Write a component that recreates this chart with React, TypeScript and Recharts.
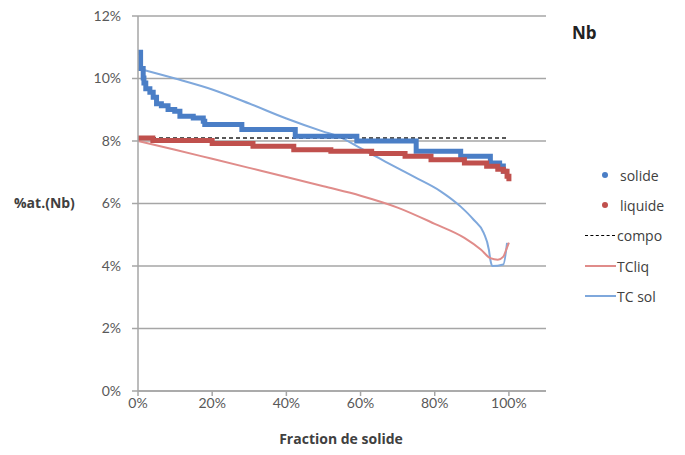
import { LineChart, Line, XAxis, YAxis, CartesianGrid } from 'recharts';

// fraction de solide (%) / composition (%at.)
const SOLIDE_X = [0, 0.7, 1.4, 1.6, 2.1, 3.2, 4.1, 5.0, 6.3, 8.1, 9.9, 11.3, 14.9, 17.6, 18.0, 26.6, 28.0, 41.0, 42.4, 58.1, 59.0, 74.0, 75.0, 87.0, 95.0, 97.5, 98.5, 99.0];
const SOLIDE_Y = [10.84, 10.32, 10.02, 9.86, 9.67, 9.56, 9.40, 9.19, 9.13, 9.01, 8.95, 8.79, 8.74, 8.63, 8.53, 8.53, 8.37, 8.37, 8.15, 8.15, 8.0, 8.0, 7.67, 7.51, 7.30, 7.20, 7.03, 6.98];

const LIQUIDE_X = [0, 4, 20, 31, 42, 52, 63, 72, 79, 88, 94, 97, 98.5, 99.5, 100];
const LIQUIDE_Y = [8.10, 8.02, 7.92, 7.83, 7.72, 7.67, 7.60, 7.51, 7.40, 7.30, 7.19, 7.10, 7.03, 6.87, 6.71];

const COMPO_X = [0, 100];
const COMPO_Y = [8.1, 8.1];

const TCLIQ_X = [0, 10, 20, 30, 40, 50, 60, 70, 80, 88, 92.5, 95, 97, 98.5, 99.2, 100];
const TCLIQ_Y = [8.0, 7.72, 7.43, 7.14, 6.85, 6.55, 6.25, 5.87, 5.35, 4.9, 4.52, 4.25, 4.2, 4.3, 4.5, 4.75];

const TCSOL_X = [0, 10, 20, 30, 40, 50, 54, 60, 65, 70, 74.5, 81.6, 87, 90.5, 93.2, 94.6, 95, 95.5, 98.5, 99.5];
const TCSOL_Y = [10.32, 10.0, 9.65, 9.2, 8.72, 8.3, 8.15, 7.77, 7.45, 7.13, 6.85, 6.39, 5.9, 5.48, 5.06, 4.52, 4.2, 4.0, 4.05, 4.74];

const X_TICKS = [0, 20, 40, 60, 80, 100];
const Y_TICKS = [0, 2, 4, 6, 8, 10, 12];

const zip = (xs: number[], ys: number[]) => xs.map((x, i) => ({ x, y: ys[i] }));

const BLUE = '#4a7ec6';
const RED = '#c0504d';
const TCLIQ = '#e08c8a';
const TCSOL = '#7fa8dc';
const GRID = '#a6a6a6';
const TEXT = '#595959';
const FONT = 'Lato, "Open Sans", sans-serif';
const TITLE_FONT = '"Open Sans", sans-serif';

const legend = [
  { name: 'solide', kind: 'dot', color: BLUE },
  { name: 'liquide', kind: 'dot', color: RED },
  { name: 'compo', kind: 'dash', color: '#000' },
  { name: 'TCliq', kind: 'line', color: TCLIQ },
  { name: 'TC sol', kind: 'line', color: TCSOL },
];

export default function App() {
  const tick = { fontSize: 14, fill: TEXT, fontFamily: FONT };
  return (
    <div style={{ position: 'absolute', left: 0, top: 0, width: 685, height: 455, background: '#fff', fontFamily: FONT }}>
      <LineChart width={685} height={455} margin={{ top: 16, right: 139, bottom: 34, left: 0 }}>
        <CartesianGrid vertical={false} stroke={GRID} strokeWidth={1.5} />
        <XAxis
          type="number"
          dataKey="x"
          domain={[0, 110]}
          ticks={X_TICKS}
          tickFormatter={v => `${v}%`}
          tick={tick}
          stroke={GRID}
          strokeWidth={1.5}
          tickSize={5}
          height={30}
          allowDuplicatedCategory={false}
        />
        <YAxis
          type="number"
          dataKey="y"
          domain={[0, 12]}
          ticks={Y_TICKS}
          tickFormatter={v => `${v}%`}
          tick={tick}
          stroke={GRID}
          strokeWidth={1.5}
          tickSize={6}
          tickMargin={11}
          width={138}
        />
        <Line data={zip(TCSOL_X, TCSOL_Y)} dataKey="y" type="monotone" stroke={TCSOL} strokeWidth={2} dot={false} isAnimationActive={false} />
        <Line data={zip(TCLIQ_X, TCLIQ_Y)} dataKey="y" type="monotone" stroke={TCLIQ} strokeWidth={2} dot={false} isAnimationActive={false} />
        <Line data={zip(COMPO_X, COMPO_Y)} dataKey="y" stroke="#222" strokeWidth={1.5} strokeDasharray="4 3" dot={false} isAnimationActive={false} />
        <Line data={zip(SOLIDE_X, SOLIDE_Y)} dataKey="y" type="stepAfter" stroke={BLUE} strokeWidth={5} dot={false} isAnimationActive={false} />
        <Line data={zip(LIQUIDE_X, LIQUIDE_Y)} dataKey="y" type="stepAfter" stroke={RED} strokeWidth={5} dot={false} isAnimationActive={false} />
      </LineChart>

      <div style={{ position: 'absolute', left: 14, top: 193, fontFamily: TITLE_FONT, fontSize: 14, fontWeight: 700, color: '#404040' }}>%at.(Nb)</div>
      <div style={{ position: 'absolute', left: 341, top: 429, transform: 'translateX(-50%)', whiteSpace: 'nowrap', fontFamily: TITLE_FONT, fontSize: 14, fontWeight: 700, color: '#404040' }}>
        Fraction de solide
      </div>
      <div style={{ position: 'absolute', left: 572, top: 21, fontFamily: TITLE_FONT, fontSize: 17, fontWeight: 700, color: '#222' }}>Nb</div>

      <div style={{ position: 'absolute', left: 585, top: 160, fontFamily: TITLE_FONT, fontSize: 14, color: '#404040' }}>
        {legend.map(l => (
          <div key={l.name} style={{ display: 'flex', alignItems: 'center', height: 30.3 }}>
            <div style={{ width: 31, height: 10, position: 'relative' }}>
              {l.kind === 'dot' && (
                <div style={{ position: 'absolute', left: 17, top: 2, width: 6, height: 6, borderRadius: 3, background: l.color }} />
              )}
              {l.kind === 'dash' && (
                <div style={{ position: 'absolute', left: 0, top: 4, width: 30, borderTop: `1.5px dashed ${l.color}` }} />
              )}
              {l.kind === 'line' && (
                <div style={{ position: 'absolute', left: 0, top: 4, width: 31, height: 2, background: l.color }} />
              )}
            </div>
            <span style={{ marginLeft: l.kind === 'dot' ? 4 : 1 }}>{l.name}</span>
          </div>
        ))}
      </div>
    </div>
  );
}
